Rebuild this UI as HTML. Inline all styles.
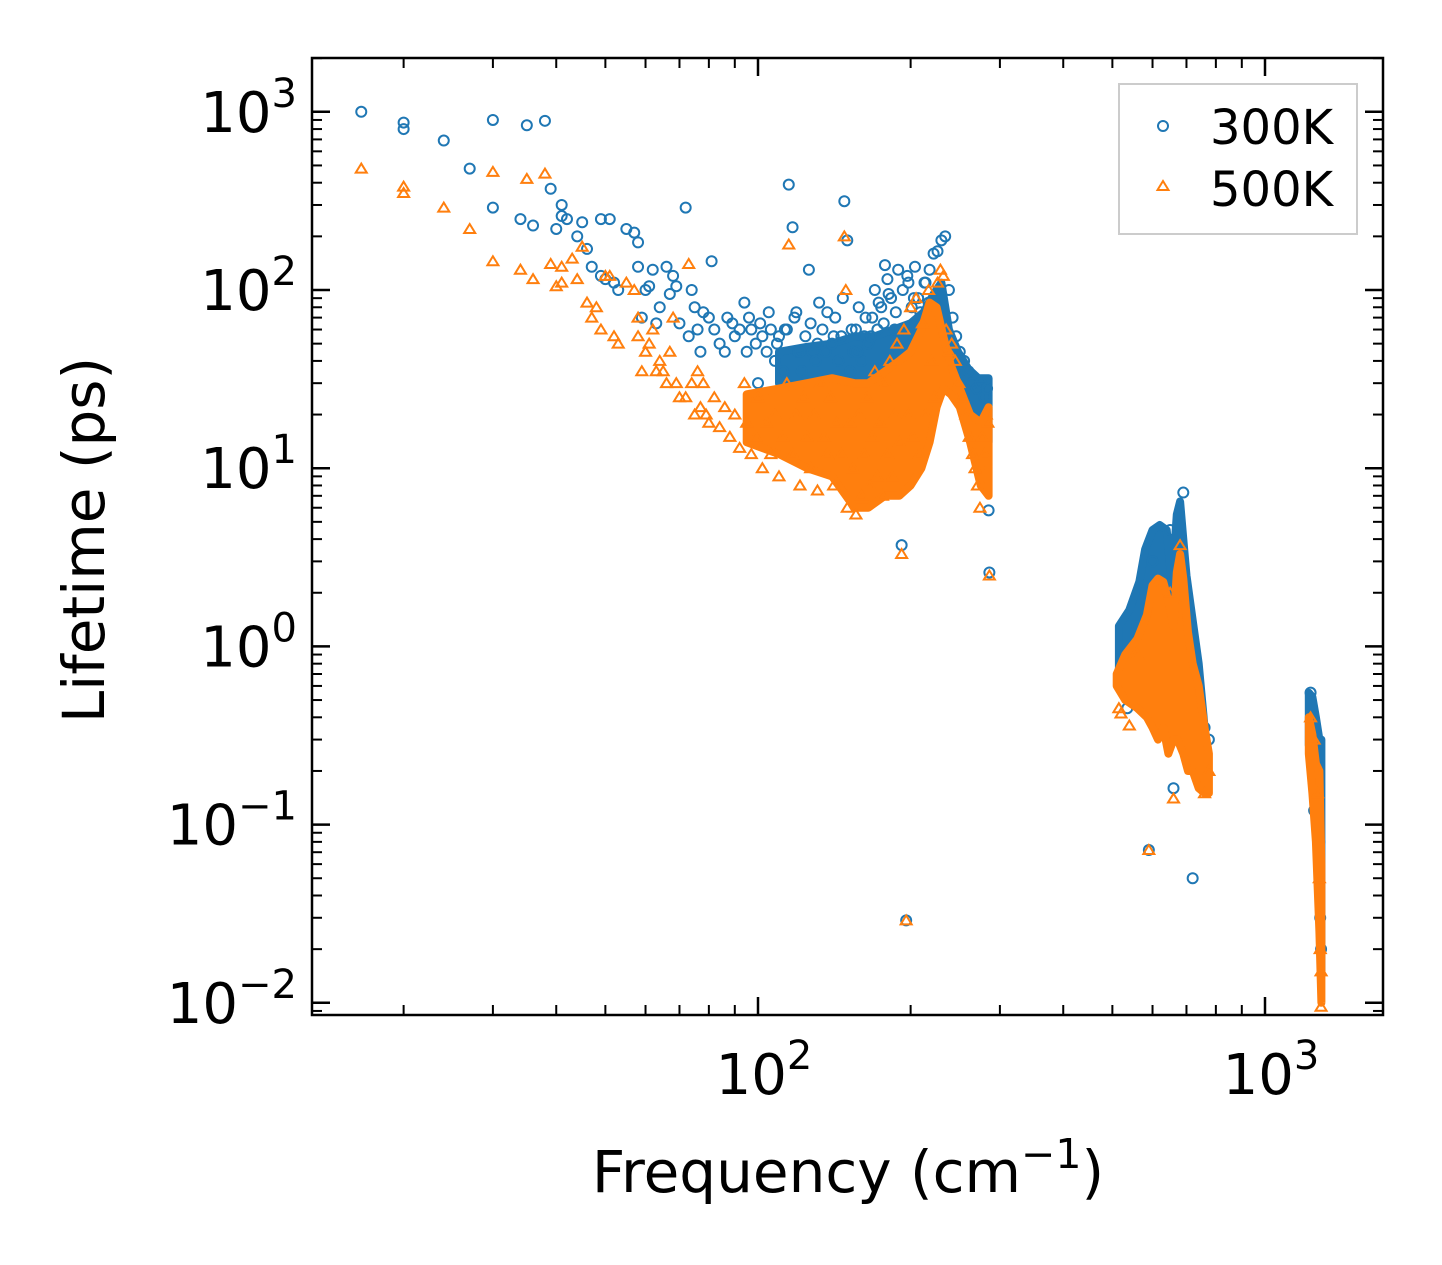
<!DOCTYPE html>
<html><head><meta charset="utf-8">
<style>
html,body{margin:0;padding:0;background:#fff;}
svg{display:block;font-family:"DejaVu Sans","Liberation Sans",sans-serif;}
</style></head>
<body>
<svg id="chart" width="1442" height="1265" viewBox="0 0 1442 1265">
<rect x="0" y="0" width="1442" height="1265" fill="#fff"/>
<defs><clipPath id="clip"><rect x="313" y="59" width="1069" height="955"/></clipPath></defs>
<g id="bands" clip-path="url(#clip)"></g>
<g id="marks" clip-path="url(#clip)"></g>
<g id="axes"></g>
<text x="848" y="1192" font-size="58" text-anchor="middle">Frequency (cm<tspan dy="-24" font-size="41">−1</tspan><tspan dy="24">)</tspan></text>
<text transform="translate(104,540) rotate(-90)" font-size="58" text-anchor="middle">Lifetime (ps)</text>
<g>
<rect x="1119" y="84" width="238" height="150" fill="#fff" stroke="#ccc" stroke-width="2"/>
<circle cx="1163" cy="126" r="5" fill="none" stroke="#1f77b4" stroke-width="2"/>
<text x="1210" y="144" font-size="48">300K</text>
<path d="M1163,181 l-5.5,9 h11 z" fill="none" stroke="#ff7f0e" stroke-width="2"/>
<text x="1210" y="206" font-size="48">500K</text>
</g>
</svg>
<script>
// ---- data ----
const blueF=[16.5,20,20,24,27,30,30,34,35,36,38,39,40,41,41,42,44,45,46,47,49,49,50,51,52,53,55,57,58,58,59,60,61,62,63,64,66,67,68,69,70,72,73,74,75,76,77,78,80,81,82,84,86,87,89,90,92,94,95,97,99,100,102,104,106,108,110,112,114,115,117,119,120,122,124,126,128,130,132,134,136,138,140,142,144,146,148,150,152,154,156,158,160,162,165,168,170,172,175,178,180,183,186,189,192,193,196,198,201,204,207,210,214,218,222,226,230,234,238,242,246,250,255,260,265,270,275,280,283,285,286,520,535,560,590,600,650,660,690,720,760,775,1230,1250,1270,1280,1285,1290,96,101,105,109,113,118,121,127,131,137,141,147,153,157,163,167,173,177,181,187,191,197,203,209,213,217];
const blueT=[1000,870,800,690,480,900,290,250,840,230,890,370,220,300,260,250,200,240,170,135,250,120,115,250,110,100,220,210,185,135,70,100,105,130,65,80,135,95,120,105,65,290,55,100,80,60,45,75,70,145,60,50,45,70,65,55,60,85,45,60,50,30,55,45,60,40,55,35,60,390,225,75,45,35,55,130,45,40,85,60,45,30,50,70,40,55,315,190,35,45,60,80,40,55,50,70,100,60,80,138,115,90,60,130,3.7,100,0.029,110,80,135,90,70,110,130,160,165,190,200,100,70,55,45,40,35,30,28,30,25,28,5.8,2.6,0.8,0.45,1.3,0.072,3,4.5,0.16,7.3,0.05,0.35,0.3,0.55,0.12,0.2,0.08,0.03,0.02,70,65,75,50,60,70,45,65,50,75,55,90,60,45,70,55,85,65,95,75,60,120,90,75,110,85];
const orangeF=[16.5,20,20,24,27,30,30,34,35,36,38,39,40,41,41,43,44,45,46,47,48,49,50,51,52,53,55,57,58,58,59,60,61,62,63,64,65,66,67,68,69,70,72,73,74,75,76,77,78,79,80,82,84,86,88,90,92,94,95,97,99,100,102,104,106,108,110,112,114,115,117,119,121,123,125,127,129,131,133,135,137,139,141,143,146,148,149,150,152,154,156,158,160,162,164,166,168,170,172,174,176,178,180,182,184,186,188,190,192,194,196,198,200,202,205,208,211,214,217,220,223,226,229,232,235,238,241,245,249,253,257,261,265,268,271,274,277,280,282,284,286,515,520,540,560,590,650,660,680,760,775,1230,1250,1270,1280,1285,1290,1290];
const orangeT=[480,380,350,290,220,460,145,130,420,115,450,140,105,135,110,150,115,175,85,70,80,60,120,120,55,50,110,100,70,55,35,45,50,60,35,40,35,30,45,70,30,25,25,140,30,20,35,22,30,20,18,25,17,22,15,20,13,30,18,12,15,25,10,18,12,20,9,15,30,180,12,20,8,25,15,10,20,7.5,30,15,12,25,8,18,12,200,100,6,18,10,5.5,20,7,12,25,8,15,35,9,18,7,30,12,40,9,20,50,14,3.3,60,0.029,20,80,15,90,12,65,20,100,40,25,110,130,120,60,45,50,40,30,25,20,15,12,10,8,6,15,12,20,18,2.5,0.45,0.42,0.36,0.9,0.072,2,0.14,3.7,0.15,0.2,0.4,0.3,0.15,0.05,0.02,0.015,0.0095];
// dense-cluster envelopes: frequency, lower lifetime, upper lifetime
const blueBandF=[110,125,140,155,170,185,200,212,222,230,238,248,260,272,285,285,272,260,248,238,230,222,212,200,185,170,155,140,125,110];
const blueBandT=[30,25,22,20,20,22,24,26,30,40,35,28,22,18,14,32,32,36,45,60,110,95,75,65,60,55,55,50,48,45];
const blueHiF=[515,540,565,580,600,620,640,655,665,680,700,720,740,760,760,740,720,700,690,680,670,655,640,620,600,580,565,540,515];
const blueHiT=[0.75,0.8,0.9,0.5,0.5,0.6,0.5,0.5,0.4,0.35,0.4,0.35,0.25,0.2,0.35,0.8,1.4,2.5,4,6.5,5.5,2.2,4.5,4.8,4.5,3.5,2.3,1.6,1.3];
const blueHi2F=[1220,1240,1260,1280,1292,1292,1280,1260,1240,1220];
const blueHi2T=[0.28,0.2,0.12,0.03,0.015,0.3,0.3,0.4,0.52,0.55];
const orangeBandF=[95,110,125,140,155,165,178,190,200,210,218,225,232,240,250,262,275,285,285,275,262,250,240,232,225,218,210,200,190,178,165,155,140,125,110,95];
const orangeBandT=[14,12,10,9,6,6,7,7,8,10,14,22,28,26,22,14,8,7,22,18,20,28,38,55,80,85,60,45,40,35,30,30,32,30,28,26];
const orangeHiF=[510,530,560,585,600,615,630,645,660,672,690,705,720,740,760,775,775,760,740,720,705,690,680,670,660,645,630,615,600,585,560,530,510];
const orangeHiT=[0.6,0.5,0.45,0.4,0.35,0.3,0.35,0.25,0.3,0.3,0.25,0.2,0.2,0.16,0.15,0.15,0.25,0.35,0.6,0.8,1.2,2.4,3.3,2.6,1.3,1.8,2.3,2.4,2.2,1.5,1.1,0.9,0.7];
const orangeHi2F=[1220,1240,1260,1280,1292,1292,1280,1260,1240,1220];
const orangeHi2T=[0.25,0.15,0.08,0.025,0.01,0.06,0.2,0.22,0.32,0.4];
const xTickVals=[100,1000];
const xTickLabels=["2","3"];
const yTickVals=[1000,100,10,1,0.1,0.01];
const yTickLabels=["3","2","1","0","−1","−2"];

// ---- scales ----
const L=312,R=1383,T=58,B=1015;
const X0=758, XD=507, Y0=290, YD=178.2;
function sx(f){return X0+(Math.log10(f)-2)*XD;}
function sy(t){return Y0-(Math.log10(t)-2)*YD;}
const NS="http://www.w3.org/2000/svg";
function mk(tag,at,parent){const e=document.createElementNS(NS,tag);for(const k in at)e.setAttribute(k,at[k]);parent.appendChild(e);return e;}
const bands=document.getElementById('bands'),marks=document.getElementById('marks'),axes=document.getElementById('axes');

function band(F,Tv,color,name){
  const pts=F.map((f,i)=>sx(f).toFixed(1)+","+sy(Tv[i]).toFixed(1)).join(" ");
  const p=mk('polygon',{points:pts,fill:color,stroke:color,'stroke-width':8,'stroke-linejoin':'round'},bands);
  
  
}
band(blueBandF,blueBandT,'#1f77b4','cluster-300k-low');
band(blueHiF,blueHiT,'#1f77b4','cluster-300k-mid');
band(blueHi2F,blueHi2T,'#1f77b4','cluster-300k-high');

for(let i=0;i<blueF.length;i++){
  const c=mk('circle',{cx:sx(blueF[i]),cy:sy(blueT[i]),r:5,fill:'none',stroke:'#1f77b4','stroke-width':2},marks);
  
  
}
band(orangeBandF,orangeBandT,'#ff7f0e','cluster-500k-low');
band(orangeHiF,orangeHiT,'#ff7f0e','cluster-500k-mid');
band(orangeHi2F,orangeHi2T,'#ff7f0e','cluster-500k-high');
for(let i=0;i<orangeF.length;i++){
  const x=sx(orangeF[i]),y=sy(orangeT[i]);
  const p=mk('path',{d:`M${x},${y-5} l-5.5,9 h11 z`,fill:'none',stroke:'#ff7f0e','stroke-width':2},marks);
  
  
}
document.querySelectorAll('#bands polygon').forEach(p=>{if(p.getAttribute('fill')==='#ff7f0e')marks.insertBefore(p,marks.querySelector('path'));});

// ---- axes ----
const frame=mk('rect',{x:L,y:T,width:R-L,height:B-T,fill:'none',stroke:'#000','stroke-width':2.5},axes);


function tick(x1,y1,x2,y2,w){mk('line',{x1,y1,x2,y2,stroke:'#000','stroke-width':w},axes);}
for(let d=1;d<=3;d++){for(let m=1;m<=9;m++){const v=Math.pow(10,d)*m;const x=sx(v);if(x<=L||x>=R)continue;const len=m===1?18:10,w=m===1?2.5:2;tick(x,B,x,B-len,w);tick(x,T,x,T+len,w);}}
for(let d=-3;d<=3;d++){for(let m=1;m<=9;m++){const v=Math.pow(10,d)*m;const y=sy(v);if(y<=T||y>=B)continue;const len=m===1?18:10,w=m===1?2.5:2;tick(L,y,L+len,y,w);tick(R,y,R-len,y,w);}}
xTickVals.forEach((v,i)=>{
  const t=mk('text',{x:sx(v)+6,y:1094,'font-size':56,'text-anchor':'middle'},axes);
  t.innerHTML='10<tspan dy="-25" font-size="40">'+xTickLabels[i]+'</tspan>';
  
  
});
yTickVals.forEach((v,i)=>{
  const t=mk('text',{x:297,y:sy(v)+20,'font-size':56,'text-anchor':'end'},axes);
  t.innerHTML='10<tspan dy="-25" font-size="40">'+yTickLabels[i]+'</tspan>';
  
  
});
</script>
</body></html>
